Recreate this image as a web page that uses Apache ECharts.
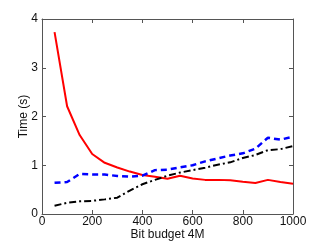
<!DOCTYPE html>
<html><head><meta charset="utf-8">
<script src="https://cdn.jsdelivr.net/npm/echarts@6/dist/echarts.min.js"></script>
<style>html,body{margin:0;padding:0;background:#fff}#c{width:323px;height:243px}</style>
</head><body><div id="c"></div>
<script>
const budgets = [50,100,150,200,250,300,350,400,450,500,550,600,650,700,750,800,850,900,950,1000];
const redTimes = [3.73,2.21,1.62,1.23,1.05,0.955,0.87,0.80,0.765,0.725,0.785,0.73,0.70,0.70,0.69,0.66,0.635,0.70,0.655,0.62];
const blueTimes = [0.64,0.655,0.82,0.81,0.81,0.78,0.765,0.785,0.90,0.91,0.955,1.0,1.08,1.14,1.20,1.245,1.34,1.565,1.525,1.585];
const blackTimes = [0.17,0.23,0.26,0.27,0.30,0.335,0.48,0.61,0.70,0.785,0.85,0.90,0.95,1.01,1.06,1.15,1.21,1.31,1.33,1.395];
const xTicks = [0,200,400,600,800,1000];
const yTicks = [0,1,2,3,4];
const xName = 'Bit budget 4M';
const yName = 'Time (s)';

const pair = (ys) => budgets.map((b,i)=>[b,ys[i]]);
const font = 'Liberation Sans, Arial, Helvetica, sans-serif';
const axisCol = '#555';
const chart = echarts.init(document.getElementById('c'));
const baseX = {type:'value',min:0,max:1000,interval:200,
  axisLine:{show:true,onZero:false,lineStyle:{color:axisCol,width:1}},
  axisTick:{show:true,inside:true,length:4,lineStyle:{color:axisCol}},
  splitLine:{show:false}};
const baseY = {type:'value',min:0,max:4,interval:1,
  axisLine:{show:true,onZero:false,lineStyle:{color:axisCol,width:1}},
  axisTick:{show:true,inside:true,length:4,lineStyle:{color:axisCol}},
  splitLine:{show:false}};
chart.setOption({
  animation:false,
  backgroundColor:'#fff',
  grid:{left:42,right:30,top:19,bottom:29,containLabel:false,outerBoundsMode:'none'},
  xAxis:[
    Object.assign({},baseX,{position:'bottom',name:xName,nameLocation:'middle',nameGap:15,nameMoveOverlap:false,
      nameTextStyle:{color:'#111',fontSize:12,fontFamily:font,verticalAlign:'top'},
      axisLabel:{color:'#111',fontSize:12,fontFamily:font,margin:2,
        formatter:(v)=>xTicks.includes(v)?String(v):''}}),
    Object.assign({},baseX,{position:'top',axisLabel:{show:false}})
  ],
  yAxis:[
    Object.assign({},baseY,{position:'left',name:yName,nameLocation:'middle',nameGap:12,nameMoveOverlap:false,
      nameTextStyle:{color:'#111',fontSize:12,fontFamily:font},
      axisLabel:{color:'#111',fontSize:12,fontFamily:font,margin:4,
        formatter:(v)=>yTicks.includes(v)?String(v):''}}),
    Object.assign({},baseY,{position:'right',axisLabel:{show:false}})
  ],
  series:[
    {type:'line',data:pair(redTimes),symbol:'none',lineStyle:{color:'#ff0000',width:2}},
    {type:'line',data:pair(blueTimes),symbol:'none',lineStyle:{color:'#0000ff',width:2.5,type:[6,4]}},
    {type:'line',data:pair(blackTimes),symbol:'none',lineStyle:{color:'#000',width:2,type:[7,3,2,3]}}
  ]
});
</script></body></html>
